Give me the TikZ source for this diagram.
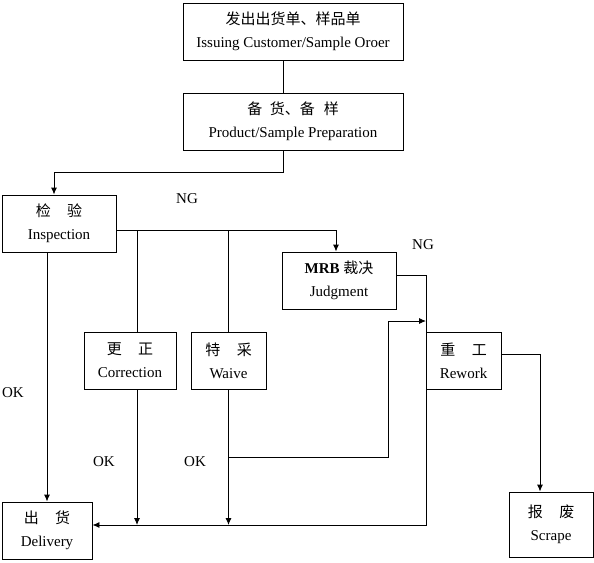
\documentclass[tikz,border=0pt]{standalone}
\usepackage{fontspec}
\setmainfont{Liberation Serif}
\newfontfamily\cjk{Noto Sans CJK SC}
\usetikzlibrary{arrows.meta}
\newcommand{\gap}{\hspace{1.1em}}

\begin{document}
\begin{tikzpicture}[x=1pt, y=-1pt, >={Latex[length=7pt,width=6pt]}, line width=0.9pt,
    font=\fontsize{15}{23}\selectfont,
    box/.style={draw, align=center, inner sep=0pt, minimum height=57pt}]
  \useasboundingbox (0,0) rectangle (594,562);
  % boxes
  \node[box, minimum width=220pt] (issue) at (293,31.5)
    {{\cjk 发出出货单、样品单}\\ Issuing Customer/Sample Oroer};
  \node[box, minimum width=220pt] (prep) at (293,121.5)
    {{\cjk 备\hspace{0.5em}货、备\hspace{0.6em}样}\\ Product/Sample Preparation};
  \node[box, minimum width=114pt] (insp) at (59,223.5)
    {{\cjk 检\gap 验}\\ Inspection};
  \node[box, minimum width=114pt] (mrb) at (339,280.5)
    {\textbf{MRB} {\cjk 裁决}\\ Judgment};
  \node[box, minimum width=92pt] (corr) at (130,360.5)
    {{\cjk 更\gap 正}\\ Correction};
  \node[box, minimum width=75pt] (waive) at (228.5,360.5)
    {{\cjk 特\gap 采}\\ Waive};
  \node[box, minimum width=75pt] (rework) at (463.5,360.5)
    {{\cjk 重\gap 工}\\ Rework};
  \node[box, minimum width=90pt] (deliv) at (47,530.5)
    {{\cjk 出\gap 货}\\ Delivery};
  \node[box, minimum width=84pt, minimum height=65pt] (scrape) at (551,524.5)
    {{\cjk 报\gap 废}\\ Scrape};
  % labels
  \node (ng1) at (187,199) {NG};
  \node (ng2) at (423,245) {NG};
  \node (ok1) at (13,393) {OK};
  \node (ok2) at (104,462) {OK};
  \node (ok3) at (195,462) {OK};
  % turning points
  \coordinate (tx) at (283,0);
  \coordinate (split) at (54,172);
  \coordinate (ngbus) at (116,230);
  \coordinate (cx) at (137,0);
  \coordinate (mx) at (336,0);
  \coordinate (corner) at (426,525);
  \coordinate (rwlow) at (388,457);
  \coordinate (rwtop) at (426,321);
  \coordinate (sx) at (540,0);
  % connectors
  \draw (issue.south -| tx) -- (prep.north -| tx);
  \draw[->] (prep.south -| tx) |- (split) -- (split |- insp.north);
  \draw[->] (ngbus) -| (mrb.north -| mx);
  \draw (corr.north -| cx) -- (ngbus -| cx);
  \draw (waive.north) -- (ngbus -| waive.north);
  \draw[->] (insp.south -| deliv.north) -- (deliv.north);
  \draw[->] ([yshift=5.5pt]mrb.east) -| (corner) -- (corner -| deliv.east);
  \draw[->] (corr.south -| cx) -- (corner -| cx);
  \draw[->] (waive.south) -- (corner -| waive.south);
  \draw[->] (rwlow -| waive.south) -- (rwlow) |- (rwtop);
  \draw[->] ([yshift=6.5pt]rework.east) -| (scrape.north -| sx);
\end{tikzpicture}
\end{document}
